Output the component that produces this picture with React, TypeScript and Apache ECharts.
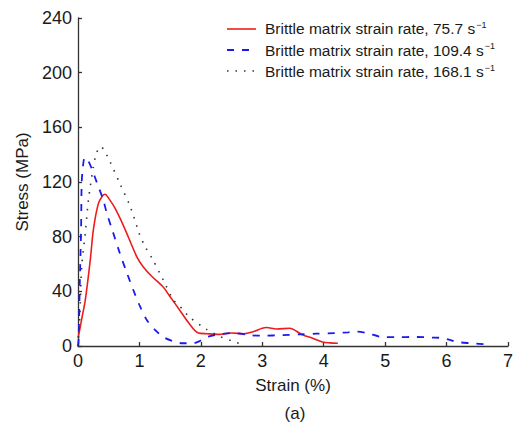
import React, { useEffect, useRef } from "react";
import * as echarts from "echarts";

const xTicks = [0, 1, 2, 3, 4, 5, 6, 7];
const yTicks = [0, 40, 80, 120, 160, 200, 240];

const redStrain = [0.0, 0.02, 0.07, 0.12, 0.2, 0.25, 0.33, 0.4, 0.44, 0.5, 0.6, 0.75, 0.96, 1.06, 1.2, 1.39, 1.5, 1.66, 1.8, 1.96, 2.1, 2.3, 2.5, 2.7, 2.85, 3.0, 3.07, 3.23, 3.45, 3.55, 3.66, 3.8, 3.98, 4.1, 4.23];
const redStress = [6, 10, 22, 34, 63, 85, 104, 110, 111, 108, 101, 87, 65, 58, 51, 43, 36, 26, 17, 9.5, 9, 8.5, 9.5, 9, 10.5, 13, 13.5, 12.4, 13, 11, 8, 6, 3, 2.3, 2];

const blueStrain = [0.0, 0.01, 0.03, 0.05, 0.06, 0.08, 0.11, 0.16, 0.23, 0.32, 0.41, 0.47, 0.55, 0.68, 0.8, 0.9, 1.0, 1.12, 1.25, 1.39, 1.55, 1.7, 1.87, 2.0, 2.1, 2.3, 2.52, 2.8, 3.0, 3.33, 3.6, 3.88, 4.2, 4.4, 4.53, 4.7, 4.96, 5.2, 5.5, 5.75, 5.94, 6.05, 6.16, 6.4, 6.7];
const blueStress = [0, 5, 48, 85, 119, 131, 138, 136, 129, 118, 107, 97, 86, 68, 53, 41, 30, 19, 12, 6.6, 3.5, 2, 2, 4, 6.6, 8.5, 9.5, 8, 7.5, 8, 8.5, 9, 9.5, 10, 10.5, 9.5, 6.6, 6.5, 6.6, 6.2, 5.8, 4.5, 3, 2, 1];

const blackStrain = [0.0, 0.03, 0.06, 0.12, 0.17, 0.25, 0.3, 0.37, 0.44, 0.52, 0.68, 0.85, 1.0, 1.09, 1.22, 1.39, 1.55, 1.7, 1.82, 2.1, 2.31, 2.55, 2.62];
const blackStress = [0, 22, 58, 83, 107, 131, 141, 146, 142, 135, 119, 102, 82, 73, 63, 48, 34, 27, 21, 12, 7, 3, 2];

const seriesNames = [
  "Brittle matrix strain rate, 75.7 s{sup|−1}",
  "Brittle matrix strain rate, 109.4 s{sup|−1}",
  "Brittle matrix strain rate, 168.1 s{sup|−1}",
];

const FONT = "'Liberation Sans', Arial, sans-serif";
const RED = "#ee1c1c";
const BLUE = "#1a1aee";
const BLACK = "#333";

function pairs(xs: number[], ys: number[]) {
  return xs.map((x, i) => [x, ys[i]]);
}

export default function App() {
  const ref = useRef<HTMLDivElement>(null);
  useEffect(() => {
    if (!ref.current) return;
    const chart = echarts.init(ref.current, null, { renderer: "svg" });
    const axisCommon = {
      axisLine: { show: true, lineStyle: { color: "#333", width: 1.3 } },
      axisTick: { show: true, inside: true, length: 4, lineStyle: { color: "#333", width: 1.3 } },
      splitLine: { show: false },
      axisLabel: { color: "#1a1a1a", fontSize: 18, fontFamily: FONT, margin: 6 },
      nameTextStyle: { color: "#1a1a1a", fontSize: 17, fontFamily: FONT },
    };
    chart.setOption({
      animation: false,
      backgroundColor: "#fff",
      grid: { left: 78, right: 8, top: 18, bottom: 79, containLabel: false },
      xAxis: {
        type: "value",
        min: xTicks[0],
        max: xTicks[xTicks.length - 1],
        interval: 1,
        name: "Strain (%)",
        nameLocation: "middle",
        nameGap: 31,
        ...axisCommon,
      },
      yAxis: {
        type: "value",
        min: yTicks[0],
        max: yTicks[yTicks.length - 1],
        interval: 40,
        name: "Stress (MPa)",
        nameLocation: "middle",
        nameGap: 45,
        ...axisCommon,
      },
      legend: {
        orient: "vertical",
        left: 227,
        top: 15,
        itemWidth: 30,
        itemHeight: 14,
        itemGap: 5,
        data: seriesNames.map((n) => ({ name: n, icon: "none" })),
        textStyle: {
          color: "#1a1a1a",
          fontSize: 15.5,
          fontFamily: FONT,
          padding: [0, 0, 0, -2],
          rich: {
            sup: { fontSize: 9, fontFamily: FONT, color: "#1a1a1a", padding: [0, 0, 8, 1] },
          },
        },
      },
      graphic: [
        { type: "line", shape: { x1: 227, y1: 29, x2: 256, y2: 29 }, style: { stroke: RED, lineWidth: 1.6 } },
        { type: "line", shape: { x1: 227, y1: 50, x2: 256, y2: 50 }, style: { stroke: BLUE, lineWidth: 1.8, lineDash: [7, 8] } },
        { type: "line", shape: { x1: 227, y1: 71, x2: 256, y2: 71 }, style: { stroke: BLACK, lineWidth: 1.6, lineDash: [1.5, 7] } },
        {
          type: "text",
          x: 295,
          y: 413,
          style: { text: "(a)", fontSize: 17, fontFamily: FONT, fill: "#1a1a1a", align: "center", verticalAlign: "middle" },
        },
      ],
      series: [
        {
          name: seriesNames[0],
          type: "line",
          data: pairs(redStrain, redStress),
          smooth: 0.3,
          showSymbol: false,
          lineStyle: { color: RED, width: 1.6 },
          itemStyle: { color: RED },
        },
        {
          name: seriesNames[1],
          type: "line",
          data: pairs(blueStrain, blueStress),
          smooth: 0.3,
          showSymbol: false,
          lineStyle: { color: BLUE, width: 1.8, type: [7, 8] },
          itemStyle: { color: BLUE },
        },
        {
          name: seriesNames[2],
          type: "line",
          data: pairs(blackStrain, blackStress),
          smooth: 0.3,
          showSymbol: false,
          lineStyle: { color: BLACK, width: 1.6, type: [1.5, 7] },
          itemStyle: { color: BLACK },
        },
      ],
    });
    return () => chart.dispose();
  }, []);
  return <div ref={ref} style={{ width: 516, height: 425, position: "absolute", left: 0, top: 0 }} />;
}
